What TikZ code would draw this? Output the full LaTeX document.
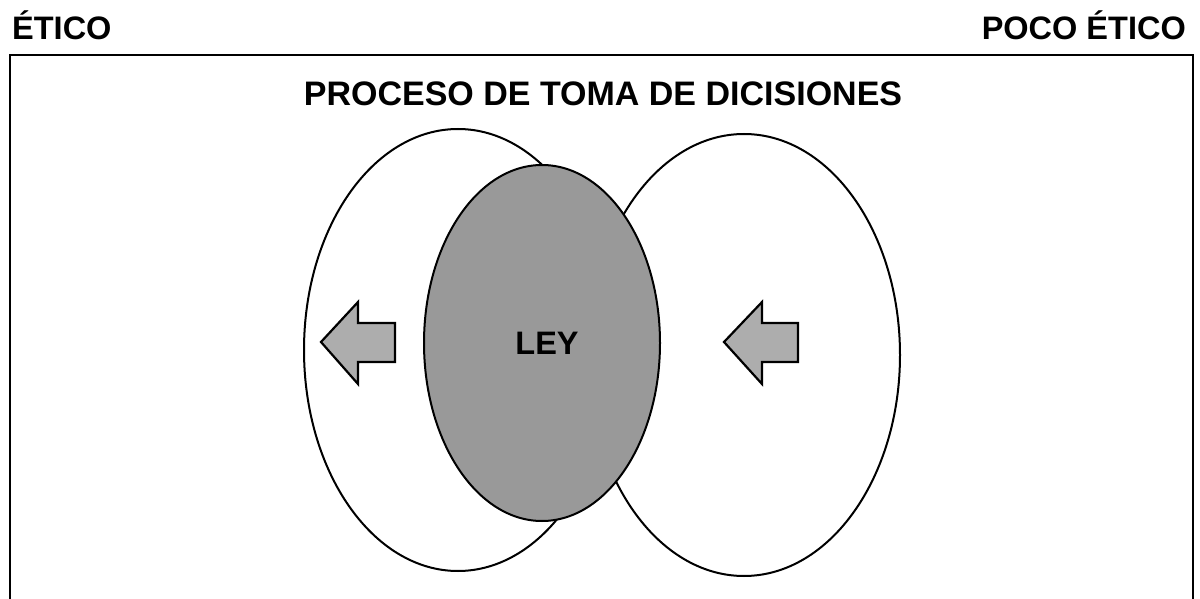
\documentclass[tikz,border=0pt]{standalone}
\usepackage{fontspec}
\setmainfont{Liberation Sans}
\usetikzlibrary{shapes.geometric}
\definecolor{leygray}{HTML}{999999}
\definecolor{arrowgray}{HTML}{ADADAD}
\tikzset{
  lbl/.style={inner sep=0pt, font=\bfseries\fontsize{32.5}{38}\selectfont},
  titlelbl/.style={inner sep=0pt, font=\bfseries\fontsize{34}{40}\selectfont},
  oval/.style={ellipse, draw=black, line width=2pt, fill=white, inner sep=0pt},
  blockarrow/.style={draw=black, line width=2.2pt, fill=arrowgray, line join=miter},
  frame/.style={draw=black, line width=2.2pt}
}
\begin{document}
\begin{tikzpicture}[x=1pt,y=-1pt]
\useasboundingbox (0,0) rectangle (1200,599);
\draw[frame] (10,600) -- (10,55) -- (1193,55) -- (1193,600);
\node[lbl, anchor=base west] (etico) at (12,40) {ÉTICO};
\node[lbl, anchor=base east] (pocoetico) at (1186,40) {POCO ÉTICO};
\node[titlelbl, anchor=base] (title) at (603,106) {PROCESO DE TOMA DE DICISIONES};
\node[oval, minimum width=308pt, minimum height=442pt] (lefto) at (458,350) {};
\node[oval, minimum width=312pt, minimum height=442pt] (righto) at (744,355) {};
\node[oval, fill=leygray, minimum width=236pt, minimum height=356pt] (ley) at (542,343) {};
\node[lbl] (leytext) at (547,343) {LEY};
\draw[blockarrow] (321,342) -- (358,302) -- (358,323) -- (395,323) -- (395,362) -- (358,362) -- (358,384) -- cycle;
\draw[blockarrow] (724,342) -- (762,302) -- (762,323) -- (798,323) -- (798,362) -- (762,362) -- (762,384) -- cycle;
\end{tikzpicture}
\end{document}
